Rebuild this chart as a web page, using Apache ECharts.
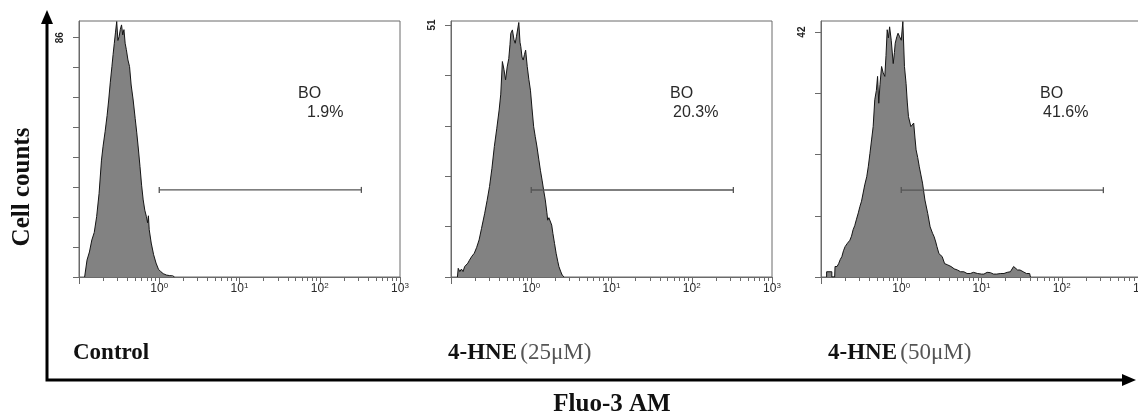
<!DOCTYPE html>
<html>
<head>
<meta charset="utf-8">
<title>Fluo-3 AM histograms</title>
<script src="https://cdn.jsdelivr.net/npm/echarts@6/dist/echarts.min.js"></script>
<style>
  html, body { margin: 0; padding: 0; background: #fff; }
  #chart { width: 1138px; height: 414px; }
</style>
</head>
<body>
<div id="chart"></div>
<script>
// x values are log10(fluorescence), y values are cell counts
const controlLog = [-0.93, -0.92, -0.90, -0.87, -0.84, -0.81, -0.78, -0.75, -0.72, -0.70, -0.675, -0.65, -0.63, -0.61,
  -0.59, -0.575, -0.56, -0.545, -0.53, -0.515, -0.50, -0.485, -0.47, -0.455, -0.44, -0.425, -0.41, -0.39, -0.37,
  -0.35, -0.325, -0.30, -0.28, -0.26, -0.24, -0.22, -0.20, -0.18, -0.16, -0.145, -0.135, -0.125, -0.10, -0.07,
  -0.04, -0.01, 0.02, 0.05, 0.09, 0.13, 0.17, 0.19];
const controlCounts = [0, 0.5, 6.1, 9, 13.3, 16, 21.7, 30, 42, 47, 52.2, 58, 63.6, 70,
  75.6, 80, 84, 88, 91.8, 85, 86.4, 89, 90.6, 87, 88.9, 84, 81.7, 78, 75.6,
  69, 63.6, 57, 51.8, 46, 39.7, 33, 27.7, 24, 21.7, 19.5, 22, 17, 12.2, 8,
  5, 2.8, 1.9, 1.2, 0.7, 0.5, 0.4, 0];

const hne25Log = [-0.92, -0.91, -0.89, -0.87, -0.85, -0.83, -0.81, -0.79, -0.77, -0.74, -0.71, -0.68, -0.65, -0.62,
  -0.58, -0.55, -0.52, -0.49, -0.46, -0.43, -0.40, -0.38, -0.36, -0.34, -0.32, -0.30, -0.28, -0.265, -0.255,
  -0.235, -0.215, -0.20, -0.185, -0.17, -0.155, -0.14, -0.13, -0.115, -0.10, -0.085, -0.07, -0.05, -0.03, -0.01,
  0.01, 0.03, 0.05, 0.07, 0.095, 0.115, 0.135, 0.155, 0.175, 0.195, 0.205, 0.22, 0.24, 0.255, 0.27, 0.29,
  0.31, 0.33, 0.345, 0.365, 0.385, 0.41];
const hne25Counts = [0, 1.75, 1.1, 1.6, 1.1, 2.1, 2.1, 2.8, 3.4, 4.2, 4.8, 6.0, 7.5, 9.8,
  12.9, 15.5, 18.3, 22, 26.4, 30, 33.8, 37, 43.6, 42, 39.9, 42.5, 44.2, 47, 49.3,
  50.0, 48, 47.3, 48.6, 49, 51.5, 47.5, 46.6, 44.5, 43.9, 45, 45.9, 42.6, 40, 37.8,
  34, 30.4, 28.4, 26.5, 23.7, 21.5, 19.6, 17.5, 15.6, 13, 11.5, 12, 12.2, 10.5, 8.8, 6.8,
  4.8, 3.2, 2.1, 1.2, 0.4, 0];

const hne50Log = [-0.93, -0.93, -0.865, -0.865, -0.83, -0.825, -0.80, -0.78, -0.76, -0.74, -0.72, -0.70, -0.67,
  -0.64, -0.62, -0.60, -0.58, -0.56, -0.535, -0.515, -0.495, -0.475, -0.455, -0.43, -0.41, -0.39, -0.37, -0.35,
  -0.33, -0.31, -0.295, -0.28, -0.265, -0.245, -0.225, -0.205, -0.19, -0.175, -0.16, -0.145, -0.125, -0.10,
  -0.085, -0.075, -0.055, -0.04, -0.02, 0.0, 0.02, 0.04, 0.06, 0.075, 0.09, 0.12, 0.155, 0.17, 0.185, 0.205,
  0.225, 0.245, 0.265, 0.295, 0.33, 0.36, 0.39, 0.41, 0.43, 0.445, 0.47, 0.51, 0.54, 0.575, 0.62, 0.66, 0.70,
  0.74, 0.78, 0.82, 0.86, 0.90, 0.95, 1.0, 1.03, 1.07, 1.11, 1.15, 1.19, 1.24, 1.28, 1.32, 1.36, 1.40, 1.42,
  1.45, 1.48, 1.52, 1.56, 1.60, 1.61];
const hne50Counts = [0, 0.9, 0.9, 0, 0, 1.8, 1.8, 2.3, 3.0, 3.5, 4.5, 5.2, 5.8,
  6.3, 7.0, 8.1, 8.8, 9.8, 11, 12.1, 13, 14.4, 15.8, 17.2, 19, 21.2, 23.5, 25.8,
  30.4, 32, 34.4, 29.8, 33, 36.1, 35, 34.4, 38, 42.4, 41, 42.9, 40.6, 36.6,
  38.5, 40.1, 41.2, 41.8, 41.2, 40.6, 43.8, 36.1, 33.2, 30, 27.5, 25.8, 26.4, 24, 21.8, 20.5,
  18.9, 17.5, 16.1, 13.2, 10.9, 8.6, 7.5, 6.9, 6.0, 5.2, 4.0, 3.5, 2.3, 2.1, 1.8, 1.4, 1.2,
  0.9, 0.9, 0.6, 0.6, 0.8, 0.6, 0.5, 0.5, 0.8, 0.75, 0.5, 0.5, 0.6, 0.6, 0.8, 0.9, 1.8, 1.8,
  1.2, 1.2, 0.9, 0.6, 0.6, 0];

const panelNames = ['Control', '4-HNE', '4-HNE'];
const panelDoses = ['', '(25μM)', '(50μM)'];
const gatePercent = ['1.9%', '20.3%', '41.6%'];
const topCountLabel = [86, 51, 42];
const countDivisions = [8, 5, 4];
const countAxisMax = [92, 51.8, 43.9];
const gateRange = [1, 330];          // fluorescence, the BO marker
const gateHeight = [31.3, 17.6, 14.9]; // counts
const decadeLabels = ['0', '1', '2', '3'];

const histLog = [controlLog, hne25Log, hne50Log];
const histCounts = [controlCounts, hne25Counts, hne50Counts];

const gridLeft = [79, 451, 821];
const chart = echarts.init(document.getElementById('chart'));

const majorTicks = [-1, 0, 1, 2, 3];
const minorTicks = [];
for (let n = -1; n < 3; n++) {
    for (let k = 2; k <= 9; k++) minorTicks.push(Math.log10(k * Math.pow(10, n)));
}

let grids = [], xAxes = [], yAxes = [], series = [], graphics = [];

for (let i = 0; i < 3; i++) {
    grids.push({
        left: gridLeft[i], top: 21, width: 321, height: 256,
        outerBoundsMode: 'none', containLabel: false,
        show: true, borderColor: '#6a6a6a', borderWidth: 1, backgroundColor: 'transparent'
    });
    xAxes.push({
        gridIndex: i, type: 'value', min: -1, max: 3, position: 'bottom',
        splitLine: {show: false},
        axisLine: {onZero: false, lineStyle: {color: '#6a6a6a', width: 1}},
        axisTick: {customValues: majorTicks, length: 7, lineStyle: {color: '#6a6a6a'}},
        axisLabel: {
            customValues: [0, 1, 2, 3], margin: 5,
            formatter: v => '{b|10}{s|' + decadeLabels[Math.round(v)] + '}',
            rich: {
                b: {fontFamily: 'Liberation Sans', fontSize: 12, color: '#2a2a2a'},
                s: {fontFamily: 'Liberation Sans', fontSize: 8, color: '#2a2a2a', verticalAlign: 'top', padding: [0, 0, 6, 0]}
            }
        }
    });
    xAxes.push({
        gridIndex: i, type: 'value', min: -1, max: 3, position: 'bottom',
        splitLine: {show: false}, axisLine: {show: false, onZero: false}, axisLabel: {show: false},
        axisTick: {customValues: minorTicks, length: 4, lineStyle: {color: '#6a6a6a'}}
    });
    const step = topCountLabel[i] / countDivisions[i];
    const yTicks = [];
    for (let k = 0; k <= countDivisions[i]; k++) yTicks.push(k * step);
    yAxes.push({
        gridIndex: i, type: 'value', min: 0, max: countAxisMax[i], position: 'left',
        splitLine: {show: false},
        axisLine: {show: true, onZero: false, lineStyle: {color: '#6a6a6a'}},
        axisTick: {customValues: yTicks, length: 6, lineStyle: {color: '#6a6a6a'}},
        axisLabel: {
            customValues: [topCountLabel[i]], rotate: 90, margin: 14,
            fontFamily: 'Liberation Sans', fontWeight: 'bold', fontSize: 10, color: '#222'
        }
    });
    series.push({
        type: 'line', xAxisIndex: 2 * i, yAxisIndex: i,
        data: histLog[i].map((x, j) => [x, histCounts[i][j]]),
        showSymbol: false, smooth: false, silent: true,
        lineStyle: {color: '#151515', width: 1},
        areaStyle: {color: '#828282', opacity: 1}
    });
    series.push({
        type: 'line', xAxisIndex: 2 * i, yAxisIndex: i,
        data: gateRange.map(v => [Math.log10(v), gateHeight[i]]),
        symbol: 'rect', symbolSize: [1.3, 6], showSymbol: true, silent: true,
        lineStyle: {color: '#555', width: 1.3},
        itemStyle: {color: '#555'}
    });

    const gx = gridLeft[i] + 219;
    graphics.push({type: 'text', x: gx, y: 94, style: {
        text: 'BO', font: '16px "Liberation Sans"', fill: '#2a2a2a', textVerticalAlign: 'middle'}});
    graphics.push({type: 'text', x: gx + (i === 0 ? 9 : 3), y: 113, style: {
        text: gatePercent[i], font: '16px "Liberation Sans"', fill: '#2a2a2a', textVerticalAlign: 'middle'}});
}

const labelX = [73, 448, 828];
for (let i = 0; i < 3; i++) {
    graphics.push({type: 'text', x: labelX[i], y: 353, style: {
        text: '{b|' + panelNames[i] + '}' + (panelDoses[i] ? ' {r|' + panelDoses[i] + '}' : ''),
        textVerticalAlign: 'middle',
        rich: {
            b: {font: 'bold 23px "Liberation Serif"', fill: '#111'},
            r: {font: '23px "Liberation Serif"', fill: '#555'}
        }
    }});
}

// outer axes with arrows
graphics.push({type: 'polyline', shape: {points: [[47, 22], [47, 380], [1124, 380]]},
    style: {stroke: '#000', lineWidth: 3, fill: null}});
graphics.push({type: 'polygon', shape: {points: [[47, 10], [41, 24], [53, 24]]}, style: {fill: '#000'}});
graphics.push({type: 'polygon', shape: {points: [[1136, 380], [1122, 374], [1122, 386]]}, style: {fill: '#000'}});

graphics.push({type: 'text', x: 23, y: 187, rotation: Math.PI / 2, style: {
    text: 'Cell counts', font: 'bold 25px "Liberation Serif"', fill: '#111',
    textAlign: 'center', textVerticalAlign: 'middle'}});
graphics.push({type: 'text', x: 612, y: 405, style: {
    text: 'Fluo-3 AM', font: 'bold 25px "Liberation Serif"', fill: '#111',
    textAlign: 'center', textVerticalAlign: 'middle'}});

chart.setOption({
    animation: false,
    grid: grids,
    xAxis: xAxes,
    yAxis: yAxes,
    series: series,
    graphic: graphics
});
</script>
</body>
</html>
